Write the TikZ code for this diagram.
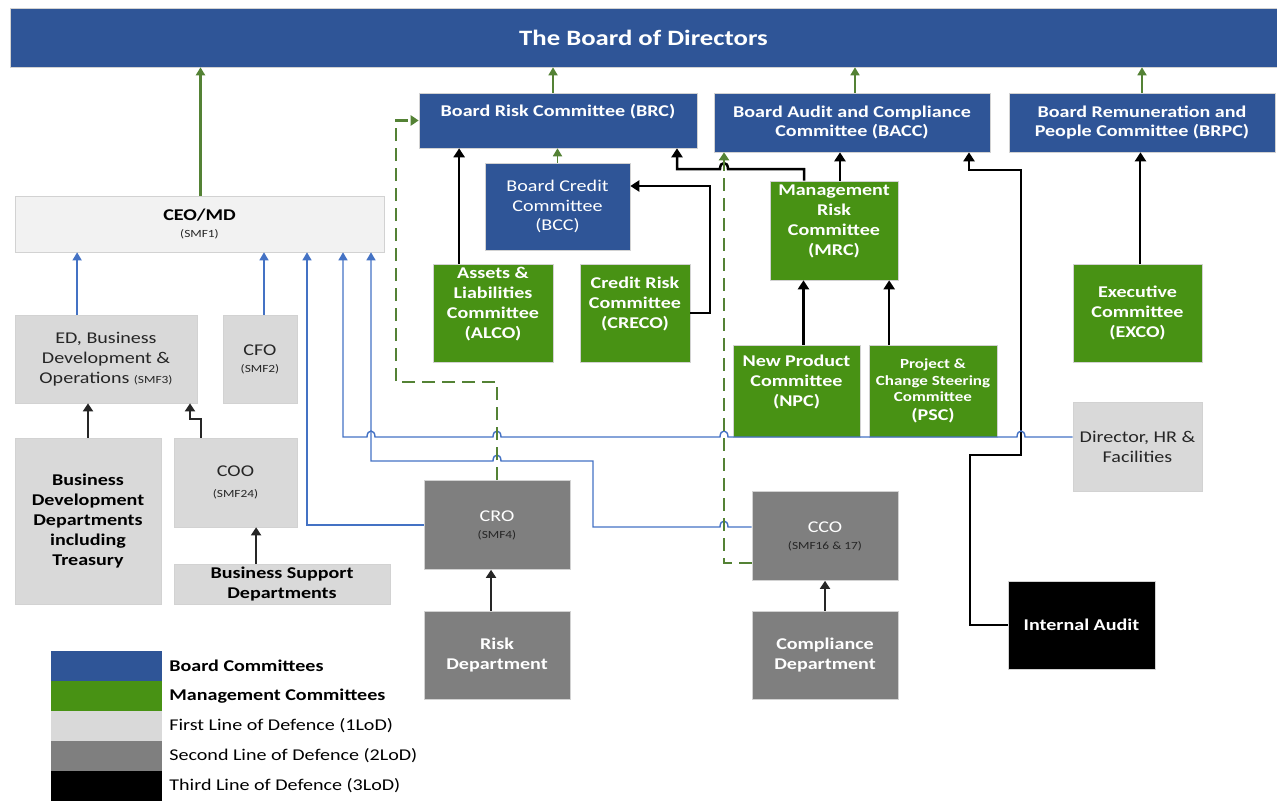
\documentclass[tikz,border=0pt]{standalone}
\usepackage{fontspec}
\setmainfont{Carlito}[FakeStretch=1.22]
\usepackage{tikz}
\usetikzlibrary{arrows.meta, positioning}

\definecolor{boardblue}{RGB}{47,85,151}
\definecolor{mgmtgreen}{RGB}{72,146,20}
\definecolor{lodlight}{RGB}{217,217,217}
\definecolor{ceogray}{RGB}{242,242,242}
\definecolor{loddark}{RGB}{127,127,127}
\definecolor{linkblue}{RGB}{68,114,196}
\definecolor{linkgreen}{RGB}{84,130,53}
\definecolor{txtdark}{RGB}{38,38,38}

\newcommand{\bodyfont}{\fontsize{16.5}{20}\selectfont}
\newcommand{\smfnote}[1]{{\fontsize{11}{13}\selectfont #1}}

\tikzstyle{base} = [rectangle, draw=gray!35, line width=0.6bp, inner sep=1bp, align=center, font=\bodyfont]
\tikzstyle{boardbox} = [base, fill=boardblue, text=white, font=\bodyfont\bfseries]
\tikzstyle{mgmtbox} = [base, fill=mgmtgreen, text=white, font=\bodyfont\bfseries]
\tikzstyle{firstbox} = [base, fill=lodlight, text=txtdark]
\tikzstyle{secondbox} = [base, fill=loddark, text=white]
\tikzstyle{thirdbox} = [base, fill=black, text=white, font=\bodyfont\bfseries]
\tikzstyle{legendswatch} = [rectangle, inner sep=0, minimum width=111bp, minimum height=30bp]
\tikzstyle{legendtext} = [inner sep=0, font=\bodyfont, text=black]

\tikzstyle{boardlink} = [draw=linkgreen, line width=1.7bp, -{Triangle[width=9bp,length=8bp]}]
\tikzstyle{reportlink} = [draw=black, line width=2.5bp, -{Triangle[width=11bp,length=9bp]}]
\tikzstyle{deptlink} = [draw=black!85, line width=1.8bp, -{Triangle[width=10bp,length=8bp]}]
\tikzstyle{execlink} = [draw=linkblue, line width=1.4bp, -{Triangle[width=9bp,length=8bp]}]
\tikzstyle{indeplink} = [draw=linkgreen, line width=2.2bp, dash pattern=on 13bp off 7bp, -{Triangle[width=10bp,length=8bp]}]

\begin{document}
\begin{tikzpicture}[x=1bp, y=-1bp]
	\useasboundingbox (0,0) rectangle (1277,801);

	% board and board committees
	\node (Board) [boardbox, minimum width=1267bp, minimum height=59bp, font=\fontsize{22}{26}\selectfont\bfseries] at (643.5, 37.5) {The Board of Directors};
	\node (BRC) [boardbox, minimum width=278bp, minimum height=55bp] at (558, 120.5) {Board Risk Committee (BRC)\\ \mbox{}};
	\node (BACC) [boardbox, minimum width=276bp, minimum height=59bp] at (852, 122.5) {Board Audit and Compliance\\Committee (BACC)};
	\node (BRPC) [boardbox, minimum width=266bp, minimum height=59bp] at (1142, 122.5) {Board Remuneration and\\People Committee (BRPC)};
	\node (BCC) [boardbox, font=\bodyfont, minimum width=145bp, minimum height=87bp] at (557.5, 206.5) {Board Credit\\Committee\\(BCC)};

	% management committees
	\node (ALCO) [mgmtbox, minimum width=120bp, minimum height=98bp] at (493, 313) {Assets \&\\Liabilities\\Committee\\(ALCO)\\ \mbox{}};
	\node (CRECO) [mgmtbox, minimum width=110bp, minimum height=98bp] at (635, 313) {Credit Risk\\Committee\\(CRECO)\\ \mbox{}};
	\node (MRC) [mgmtbox, minimum width=128bp, minimum height=99bp] at (834, 230.5) {Management\\Risk\\Committee\\(MRC)\\ \mbox{}};
	\node (NPC) [mgmtbox, minimum width=127bp, minimum height=92bp] at (796.5, 391) {New Product\\Committee\\(NPC)\\ \mbox{}};
	\node (PSC) [mgmtbox, font=\fontsize{14}{16.5}\selectfont\bfseries, minimum width=128bp, minimum height=92bp] at (933, 391) {Project \&\\Change Steering\\Committee\\[2bp]{\bodyfont (PSC)}};
	\node (EXCO) [mgmtbox, minimum width=129bp, minimum height=98bp] at (1137.5, 313) {Executive\\Committee\\(EXCO)};

	% first line of defence
	\node (CEO) [firstbox, fill=ceogray, minimum width=369bp, minimum height=56bp] at (199.5, 224) {\textbf{\color{black}CEO/MD}\\[-3bp]\smfnote{(SMF1)}};
	\node (EDBD) [firstbox, minimum width=182bp, minimum height=88bp] at (106, 359) {ED, Business\\Development \&\\Operations \smfnote{(SMF3)}};
	\node (CFO) [firstbox, minimum width=74bp, minimum height=88bp] at (260, 359) {CFO\\[-3bp]\smfnote{(SMF2)}};
	\node (BDDept) [firstbox, font=\bodyfont\bfseries, text=black, minimum width=146bp, minimum height=166bp] at (88, 521) {Business\\Development\\Departments\\including\\Treasury};
	\node (COO) [firstbox, minimum width=123bp, minimum height=89bp] at (235.5, 482.5) {COO\\[1bp]\smfnote{(SMF24)}};
	\node (BSDept) [firstbox, font=\bodyfont\bfseries, text=black, inner sep=0, minimum width=216bp, minimum height=40bp] at (282, 584) {Business Support\\Departments};
	\node (DirHR) [firstbox, minimum width=129bp, minimum height=89bp] at (1137.5, 447) {Director, HR \&\\Facilities};

	% second and third line of defence
	\node (CRO) [secondbox, minimum width=146bp, minimum height=89bp] at (497, 525) {CRO\\[-3bp]{\color{txtdark}\smfnote{(SMF4)}}};
	\node (RiskDept) [secondbox, font=\bodyfont\bfseries, minimum width=146bp, minimum height=88bp] at (497, 655) {Risk\\Department};
	\node (CCO) [secondbox, minimum width=146bp, minimum height=89bp] at (825, 536) {CCO\\[-3bp]{\color{txtdark}\smfnote{(SMF16 \& 17)}}};
	\node (CompDept) [secondbox, font=\bodyfont\bfseries, minimum width=146bp, minimum height=88bp] at (825, 655) {Compliance\\Department};
	\node (IntAudit) [thirdbox, minimum width=147bp, minimum height=88bp] at (1081.5, 625) {Internal Audit};

	% reporting to the board
	\draw[boardlink, line width=2.3bp] ([xshift=1]CEO.north) -- ([xshift=1]CEO.north |- Board.south);
	\draw[boardlink] ([xshift=-5]BRC.north) -- ([xshift=-5]BRC.north |- Board.south);
	\draw[boardlink] ([xshift=3]BACC.north) -- ([xshift=3]BACC.north |- Board.south);
	\draw[boardlink] (BRPC.north) -- (BRPC.north |- Board.south);
	\draw[boardlink] (BCC.north) -- (BCC.north |- BRC.south);

	% committees
	\draw[reportlink] ([xshift=-34]ALCO.north) -- ([xshift=-34]ALCO.north |- BRC.south);
	\coordinate (CRECOBend) at (710, 186);
	\draw[reportlink] (CRECO.east) -| (CRECOBend) -- (CRECOBend -| BCC.east);
	\coordinate (MRCBend) at (677, 169);
	\draw[reportlink] ([xshift=-30]MRC.north) -- (804, 169) -- (728, 169)
		.. controls (728, 161) and (720, 161) .. (720, 169) -- (MRCBend) -- (MRCBend |- BRC.south);
	\draw[reportlink] ([xshift=6]MRC.north) -- ([xshift=6]MRC.north |- BACC.south);
	\draw[reportlink] ([xshift=7]NPC.north) -- ([xshift=7]NPC.north |- MRC.south);
	\draw[reportlink] ([xshift=-44]PSC.north) -- ([xshift=-44]PSC.north |- MRC.south);
	\draw[reportlink, line width=2bp] ([xshift=3]EXCO.north) -- ([xshift=3]EXCO.north |- BRPC.south);

	% internal audit
	\coordinate (IABend1) at (970, 455);
	\coordinate (IABend2) at (1021, 170);
	\coordinate (IABend3) at (969, 170);
	\draw[reportlink, line width=2bp] (IntAudit.west) -| (IABend1) -- (IABend1 -| IABend2) -- (IABend2) -- (IABend3) -- (IABend3 |- BACC.south);

	% departments
	\draw[deptlink] (BDDept.north) -- (BDDept.north |- EDBD.south);
	\coordinate (COOBend) at (190, 419);
	\draw[deptlink] ([xshift=-35]COO.north) |- (COOBend) -- (COOBend |- EDBD.south);
	\draw[deptlink] ([xshift=-26]BSDept.north) -- ([xshift=-26]BSDept.north |- COO.south);
	\draw[deptlink] ([xshift=-6]RiskDept.north) -- ([xshift=-6]RiskDept.north |- CRO.south);
	\draw[deptlink] (CompDept.north) -- (CompDept.north |- CCO.south);

	% reporting to the CEO
	\draw[execlink] ([xshift=-29]EDBD.north) -- ([xshift=-29]EDBD.north |- CEO.south);
	\draw[execlink] ([xshift=4]CFO.north) -- ([xshift=4]CFO.north |- CEO.south);
	\coordinate (CROBend) at (307, 0);
	\draw[execlink] (CRO.west) -| (CROBend |- CEO.south);
	\coordinate (HRBend) at (343, 437);
	\draw[execlink] (DirHR.west |- HRBend) -- (1025, 437)
		.. controls (1025, 429) and (1017, 429) .. (1017, 437) -- (728, 437)
		.. controls (728, 429) and (720, 429) .. (720, 437) -- (501, 437)
		.. controls (501, 429) and (493, 429) .. (493, 437) -- (375, 437)
		.. controls (375, 429) and (367, 429) .. (367, 437) -- (HRBend) -- (HRBend |- CEO.south);
	\coordinate (CCOBend1) at (593, 527);
	\coordinate (CCOBend2) at (371, 461);
	\draw[execlink] (CCO.west |- CCOBend1) -- (728, 527)
		.. controls (728, 519) and (720, 519) .. (720, 527) -- (CCOBend1) -- (CCOBend1 |- CCOBend2) -- (501, 461)
		.. controls (501, 453) and (493, 453) .. (493, 461) -- (CCOBend2) -- (CCOBend2 |- CEO.south);

	% independent access
	\coordinate (CRODash) at (396, 382);
	\draw[indeplink] (CRO.north) |- (CRODash) |- (BRC.west);
	\coordinate (CCODash) at (724, 563);
	\draw[indeplink] (CCO.west |- CCODash) -- (CCODash) -- (CCODash |- BACC.south);

	% legend
	\node (LegBoard) [legendswatch, fill=boardblue] at (106.5, 666) {};
	\node (LegBoardTxt) [legendtext, right=7bp of LegBoard] {\textbf{Board Committees}};
	\node (LegMgmt) [legendswatch, fill=mgmtgreen] at (106.5, 696) {};
	\node (LegMgmtTxt) [legendtext, right=7bp of LegMgmt] {\textbf{Management Committees}};
	\node (LegFirst) [legendswatch, fill=lodlight] at (106.5, 726) {};
	\node (LegFirstTxt) [legendtext, right=7bp of LegFirst] {First Line of Defence (1LoD)};
	\node (LegSecond) [legendswatch, fill=loddark] at (106.5, 756) {};
	\node (LegSecondTxt) [legendtext, right=7bp of LegSecond] {Second Line of Defence (2LoD)};
	\node (LegThird) [legendswatch, fill=black] at (106.5, 786) {};
	\node (LegThirdTxt) [legendtext, right=7bp of LegThird] {Third Line of Defence (3LoD)};
\end{tikzpicture}
\end{document}
